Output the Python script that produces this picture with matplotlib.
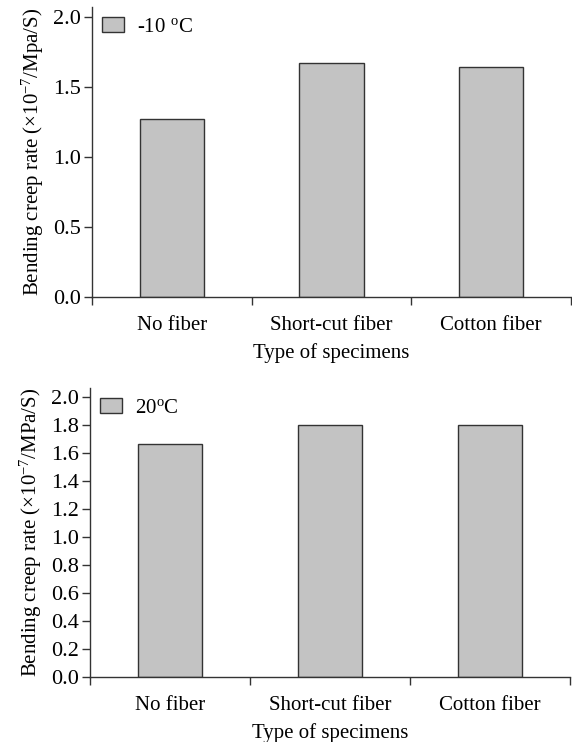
import matplotlib
matplotlib.use("Agg")
import matplotlib.pyplot as plt
import numpy as np

categories = ["No fiber", "Short-cut fiber", "Cotton fiber"]
values_m10 = [1.27, 1.67, 1.64]
values_20 = [1.67, 1.80, 1.80]
label_m10 = r"-10 $^{\mathrm{o}}$C"
label_20 = r"20$^{\mathrm{o}}$C"
ylabel_top = r"Bending creep rate ($\times$10$^{-7}$/Mpa/S)"
ylabel_bot = r"Bending creep rate ($\times$10$^{-7}$/MPa/S)"
xlabel = "Type of specimens"
yticks_top = [0.0, 0.5, 1.0, 1.5, 2.0]
yticks_bot = [0.0, 0.2, 0.4, 0.6, 0.8, 1.0, 1.2, 1.4, 1.6, 1.8, 2.0]

plt.rcParams["font.family"] = ["Liberation Serif", "DejaVu Serif"]
plt.rcParams["mathtext.fontset"] = "custom"
plt.rcParams["mathtext.rm"] = "Liberation Serif"
plt.rcParams["mathtext.it"] = "Liberation Serif:italic"
plt.rcParams["font.size"] = 15

W, H = 572, 742
fig = plt.figure(figsize=(W / 100, H / 100), dpi=100)

linec = "#333333"
barc = "#c3c3c3"


def panel(rect, vals, lab, ylab, yt):
    ax = fig.add_axes(rect)
    x = np.arange(len(categories))
    ax.bar(x, vals, width=0.405, color=barc, edgecolor=linec, linewidth=1.0, label=lab)
    ax.set_xlim(-0.5, len(categories) - 0.5)
    ax.set_ylim(0, 2.07)
    for s in ["top", "right"]:
        ax.spines[s].set_visible(False)
    for s in ["left", "bottom"]:
        ax.spines[s].set_color(linec)
        ax.spines[s].set_linewidth(1.0)
    ax.set_xticks(x)
    ax.set_xticklabels(categories, fontsize=15)
    ax.set_xticks(np.arange(len(categories) + 1) - 0.5, minor=True)
    ax.tick_params(axis="x", which="major", length=0, pad=14)
    ax.tick_params(axis="x", which="minor", length=6, width=1.0, color=linec, direction="out")
    ax.set_yticks(yt)
    ax.set_yticklabels([f"{v:.1f}" for v in yt], fontsize=16)
    ax.tick_params(axis="y", length=6, width=1.0, color=linec, direction="out", pad=2)
    ax.set_xlabel(xlabel, labelpad=5.5, fontsize=15)
    ax.set_ylabel(ylab, labelpad=5, fontsize=15)
    ax.legend(loc="upper left", frameon=False, handlelength=1.05, handleheight=0.7,
              handletextpad=0.6, borderaxespad=0.2, borderpad=0.3, fontsize=15)
    return ax


panel([92 / W, (H - 297) / H, 479 / W, 290 / H], values_m10, label_m10, ylabel_top, yticks_top)
panel([90 / W, (H - 676.7) / H, 480 / W, 289 / H], values_20, label_20, ylabel_bot, yticks_bot)

fig.savefig("out.png", dpi=100)
